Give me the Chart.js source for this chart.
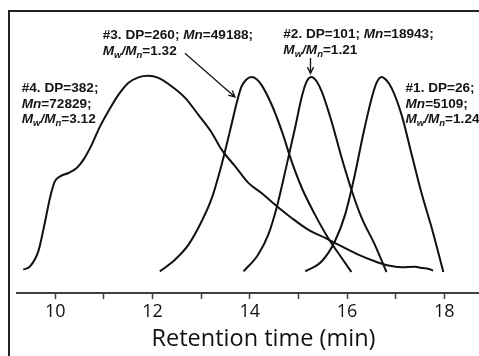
<!DOCTYPE html>
<html><head><meta charset="utf-8">
<script src="https://cdn.jsdelivr.net/npm/chart.js@4.4.1/dist/chart.umd.min.js"></script>
<style>html,body{margin:0;padding:0;background:#fff;overflow:hidden}#wrap{position:relative;width:479px;height:356px;overflow:hidden}canvas{display:block}</style>
</head><body><div id="wrap"><canvas id="c" width="510" height="356"></canvas></div>
<script>
// ---- data ----
const tickLabels = ['10', '12', '14', '16', '18'];
const axisTitle = 'Retention time (min)';

// #4 (DP=382)
const s4X = [9.34, 9.48, 9.65, 9.79, 9.89, 9.99, 10.10, 10.27, 10.44, 10.58, 10.75, 10.92, 11.09, 11.30, 11.50, 11.71, 11.91, 12.12, 12.39, 12.67, 12.94, 13.22, 13.42, 13.70, 13.97, 14.24, 14.52, 14.86, 15.20, 15.55, 15.89, 16.23, 16.57, 16.85, 17.12, 17.40, 17.55, 17.67, 17.77];
const s4Y = [0.000, 0.017, 0.094, 0.248, 0.369, 0.454, 0.480, 0.497, 0.523, 0.566, 0.643, 0.737, 0.814, 0.900, 0.960, 0.989, 0.997, 0.986, 0.943, 0.883, 0.797, 0.703, 0.617, 0.531, 0.446, 0.394, 0.334, 0.266, 0.206, 0.163, 0.120, 0.077, 0.043, 0.021, 0.012, 0.015, 0.008, 0.005, -0.005];
// #3 (DP=260)
const s3X = [12.15, 12.46, 12.74, 13.01, 13.22, 13.42, 13.59, 13.73, 13.83, 13.93, 14.04, 14.14, 14.24, 14.45, 14.66, 14.86, 15.07, 15.34, 15.61, 15.89, 16.09];
const s3Y = [-0.009, 0.051, 0.129, 0.249, 0.369, 0.540, 0.711, 0.857, 0.942, 0.978, 0.990, 0.979, 0.950, 0.848, 0.711, 0.557, 0.420, 0.283, 0.163, 0.060, -0.012];
// #2 (DP=101)
const s2X = [13.87, 14.17, 14.38, 14.55, 14.76, 14.93, 15.07, 15.17, 15.27, 15.37, 15.48, 15.68, 15.89, 16.10, 16.30, 16.57, 16.81];
const s2Y = [-0.009, 0.077, 0.180, 0.317, 0.540, 0.728, 0.890, 0.968, 0.991, 0.970, 0.915, 0.763, 0.574, 0.403, 0.266, 0.129, -0.012];
// #1 (DP=26)
const s1X = [15.14, 15.48, 15.75, 15.96, 16.16, 16.33, 16.51, 16.61, 16.71, 16.81, 16.92, 17.12, 17.33, 17.54, 17.74, 17.98];
const s1Y = [-0.009, 0.043, 0.146, 0.283, 0.488, 0.694, 0.885, 0.963, 0.991, 0.974, 0.932, 0.797, 0.591, 0.386, 0.215, -0.012];

const seriesX = [s4X, s3X, s2X, s1X];
const seriesY = [s4Y, s3Y, s2Y, s1Y];

// ---- annotations (anchored in data coordinates) ----
const notes = [
  {x: 9.309, y: 0.911, lines: [
    [['#4. DP=382;', 'b']],
    [['Mn', 'bi'], ['=72829;', 'b']],
    [['M', 'bi'], ['w', 'bis'], ['/M', 'bi'], ['n', 'bis'], ['=3.12', 'b']]]},
  {x: 10.975, y: 1.184, lines: [
    [['#3. DP=260; ', 'b'], ['Mn', 'bi'], ['=49188;', 'b']],
    [['M', 'bi'], ['w', 'bis'], ['/M', 'bi'], ['n', 'bis'], ['=1.32', 'b']]]},
  {x: 14.689, y: 1.189, lines: [
    [['#2. DP=101; ', 'b'], ['Mn', 'bi'], ['=18943;', 'b']],
    [['M', 'bi'], ['w', 'bis'], ['/M', 'bi'], ['n', 'bis'], ['=1.21', 'b']]]},
  {x: 17.202, y: 0.911, lines: [
    [['#1. DP=26;', 'b']],
    [['Mn', 'bi'], ['=5109;', 'b']],
    [['M', 'bi'], ['w', 'bis'], ['/M', 'bi'], ['n', 'bis'], ['=1.24', 'b']]]}
];
const arrows = [
  {x0: 12.665, y0: 1.113, x1: 13.695, y1: 0.888},
  {x0: 15.248, y0: 1.088, x1: 15.248, y1: 1.009}
];

const datasets = seriesX.map((xs, i) => ({
  data: xs.map((x, j) => ({x: x, y: seriesY[i][j]})),
  borderColor: '#111',
  borderWidth: 2,
  pointRadius: 0,
  fill: false,
  cubicInterpolationMode: 'monotone'
}));

const overlay = {
  id: 'overlay',
  afterDraw(chart) {
    const ctx = chart.ctx, xs = chart.scales.x, ys = chart.scales.y;
    ctx.save();
    // frame (left + top)
    ctx.strokeStyle = '#222';
    ctx.lineWidth = 2;
    ctx.beginPath();
    ctx.moveTo(9, 356); ctx.lineTo(9, 11); ctx.lineTo(chart.width, 11);
    ctx.stroke();
    // text
    ctx.fillStyle = '#151515';
    ctx.textBaseline = 'alphabetic';
    ctx.textAlign = 'left';
    notes.forEach(n => {
      const px = xs.getPixelForValue(n.x);
      let py = ys.getPixelForValue(n.y);
      n.lines.forEach(line => {
        let cx = px;
        line.forEach(([t, st]) => {
          const it = st.includes('i'), sub = st.includes('s');
          ctx.font = (it ? 'italic ' : '') + 'bold ' + (sub ? 9.5 : 13.6) + 'px "Liberation Sans", Arial, sans-serif';
          ctx.fillText(t, cx, py + (sub ? 3 : 0));
          cx += ctx.measureText(t).width;
        });
        py += 15.5;
      });
    });
    // arrows
    ctx.strokeStyle = '#151515';
    ctx.lineWidth = 1.3;
    arrows.forEach(a => {
      const x0 = xs.getPixelForValue(a.x0), y0 = ys.getPixelForValue(a.y0);
      const x1 = xs.getPixelForValue(a.x1), y1 = ys.getPixelForValue(a.y1);
      const ang = Math.atan2(y1 - y0, x1 - x0), L = 7, w = 0.45;
      ctx.beginPath();
      ctx.moveTo(x0, y0); ctx.lineTo(x1, y1);
      ctx.moveTo(x1 - L * Math.cos(ang - w), y1 - L * Math.sin(ang - w));
      ctx.lineTo(x1, y1);
      ctx.lineTo(x1 - L * Math.cos(ang + w), y1 - L * Math.sin(ang + w));
      ctx.stroke();
    });
    ctx.restore();
  }
};

new Chart(document.getElementById('c'), {
  type: 'line',
  data: {datasets},
  options: {
    responsive: false,
    animation: false,
    devicePixelRatio: 1,
    layout: {padding: {left: 17, right: 0, top: 11, bottom: 0}},
    plugins: {legend: {display: false}, tooltip: {enabled: false}},
    scales: {
      x: {
        type: 'linear',
        min: 9.212, max: 19.351,
        afterFit(s) { s.height = 63; },
        border: {display: true, color: '#404040', width: 2},
        grid: {drawOnChartArea: false, drawTicks: true, tickLength: 6, tickColor: '#404040', tickWidth: 1.5},
        ticks: {
          stepSize: 1, includeBounds: false, autoSkip: false, maxRotation: 0, padding: 2,
          color: '#111',
          font: {family: '"Open Sans"', size: 18},
          callback: v => { const l = tickLabels.find(t => Number(t) === v); return l === undefined ? '' : l; }
        },
        title: {display: true, text: axisTitle, color: '#111',
          font: {family: '"Open Sans"', size: 23.5}, padding: {top: 0, bottom: 3}}
      },
      y: {type: 'linear', display: false, min: -0.12, max: 1.33}
    }
  },
  plugins: [overlay]
});
</script></body></html>
